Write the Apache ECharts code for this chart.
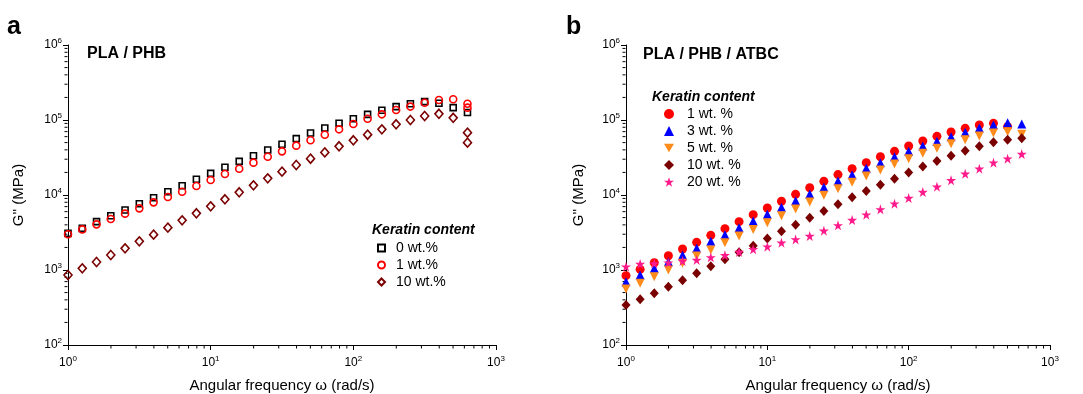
<!DOCTYPE html>
<html>
<head>
<meta charset="utf-8">
<script src="https://cdn.jsdelivr.net/npm/echarts@6/dist/echarts.min.js"></script>
<style>html,body{margin:0;padding:0;background:#fff;}#c{width:1083px;height:394px;}</style>
</head>
<body>
<div id="c"></div>
<script>
// Angular frequency (rad/s)
var freq = [1, 1.259, 1.585, 1.995, 2.512, 3.162, 3.981, 5.012, 6.310, 7.943,
  10, 12.59, 15.85, 19.95, 25.12, 31.62, 39.81, 50.12, 63.10, 79.43,
  100, 125.9, 158.5, 199.5, 251.2, 316.2, 398.1, 501.2, 631.0];

// Panel a: PLA / PHB, G'' (MPa)
var a0 = [3080, 3590, 4410, 5300, 6310, 7660, 9200, 11070, 13300, 16200,
  19400, 23400, 28100, 33400, 39800, 47400, 56400, 67100, 78200, 90300,
  104000, 119000, 135000, 151000, 165000, 176000, 167000, 146000, 126000];
var a1 = [2990, 3480, 4060, 4780, 5640, 6640, 7980, 9400, 11070, 13200,
  15850, 19050, 22400, 27000, 32400, 38200, 45500, 53600, 63700, 75100,
  88500, 104000, 119000, 136000, 151000, 170000, 185000, 189000, 165000];
var a10 = [858, 1052, 1279, 1585, 1945, 2410, 2960, 3670, 4590, 5700,
  7060, 8760, 10860, 13450, 16680, 20470, 25120, 30500, 37000, 44600,
  53600, 63700, 75100, 87600, 100000, 113000, 121000, 107000, 67800];
// repeated measurement at the last frequency
var repeatFreq = [631.0];
var a1Repeat = [146000];
var a10Repeat = [49900];

// Panel b: PLA / PHB / ATBC
var b1 = [840, 1020, 1250, 1550, 1905, 2340, 2900, 3560, 4410, 5470,
  6710, 8240, 10200, 12500, 15200, 18700, 22400, 27000, 32400, 38200,
  45000, 52500, 60600, 69200, 77400, 85800, 90300, 81500];
var b3 = [698, 858, 1052, 1290, 1585, 1945, 2410, 2960, 3670, 4500,
  5520, 6850, 8400, 10300, 12650, 15380, 18660, 22700, 27000, 32400,
  38200, 45000, 52000, 60000, 68500, 78200, 85800, 92000, 88500];
var b5 = [558, 664, 815, 1000, 1227, 1537, 1848, 2310, 2840, 3480,
  4280, 5300, 6500, 8070, 9900, 12150, 14760, 17900, 21500, 25900,
  30500, 35900, 41900, 48300, 54700, 61200, 67100, 69800, 64400];
var b10 = [341, 406, 489, 600, 728, 904, 1120, 1387, 1720, 2110,
  2640, 3280, 4020, 4990, 6120, 7510, 9310, 11300, 13700, 16500,
  19900, 23900, 28400, 33400, 39000, 44600, 50400, 54700, 57000];
var b20 = [1108, 1202, 1227, 1253, 1318, 1360, 1475, 1570, 1740, 1888,
  2048, 2310, 2560, 2840, 3340, 3940, 4640, 5470, 6440, 7660,
  9120, 10960, 12900, 15700, 19200, 22400, 27000, 30500, 35200];

var namesA = ['0 wt.%', '1 wt.%', '10 wt.%'];
var namesB = ['1 wt. %', '3 wt. %', '5 wt. %', '10 wt. %', '20 wt. %'];
var legendTitle = 'Keratin content';
var panelTitles = ['PLA / PHB', 'PLA / PHB / ATBC'];
var panelLetters = ['a', 'b'];
var xName = 'Angular frequency \u03c9 (rad/s)';
var yName = 'G\'\' (MPa)';
var xRange = [1, 1000];
var yRange = [100, 1000000];
var minorMult = [2, 3, 4, 5, 6, 7, 8, 9];
var xDecades = [1, 10, 100];
var yDecades = [100, 1000, 10000, 100000];

function zip(xs, ys) {
  var out = [];
  for (var i = 0; i < ys.length; i++) out.push([xs[i], ys[i]]);
  return out;
}

var FONT = 'Liberation Sans, Arial, Helvetica, sans-serif';
var STAR = 'path://M50,0 L61.2,34.5 L97.6,34.5 L68.2,55.9 L79.4,90.5 L50,69.1 L20.6,90.5 L31.8,55.9 L2.4,34.5 L38.8,34.5 Z';
var DOWN_TRI = 'path://M0,0 L100,0 L50,86.6 Z';

// minor tick marks drawn as tiny scatter marks at 2..9 x 10^n through the axes' scales
function minorTicksX(idx) {
  var d = [];
  xDecades.forEach(function (dec) { minorMult.forEach(function (m) { d.push([dec * m, yRange[0]]); }); });
  return { type: 'scatter', xAxisIndex: idx, yAxisIndex: idx, data: d, silent: true, clip: false,
    symbol: 'rect', symbolSize: [1, 3], symbolOffset: [0, 2], itemStyle: { color: '#000', opacity: 1 },
    z: 1, legendHoverLink: false, tooltip: { show: false } };
}
function minorTicksY(idx) {
  var d = [];
  yDecades.forEach(function (dec) { minorMult.forEach(function (m) { d.push([xRange[0], dec * m]); }); });
  return { type: 'scatter', xAxisIndex: idx, yAxisIndex: idx, data: d, silent: true, clip: false,
    symbol: 'rect', symbolSize: [3, 1], symbolOffset: [-2, 0], itemStyle: { color: '#000', opacity: 1 },
    z: 1, legendHoverLink: false, tooltip: { show: false } };
}

function supLabel() {
  return {
    margin: 0,
    formatter: function (v) { return '{b|10}{s|' + Math.round(Math.log10(v)) + '}'; },
    rich: {
      b: { fontSize: 12, fontFamily: FONT, color: '#000', lineHeight: 16 },
      s: { fontSize: 8, fontFamily: FONT, color: '#000', verticalAlign: 'top', lineHeight: 10 }
    }
  };
}

function xAxis(idx) {
  var lab = supLabel(); lab.margin = 10;
  return {
    type: 'log', logBase: 10, gridIndex: idx, min: xRange[0], max: xRange[1],
    name: xName, nameLocation: 'middle', nameGap: 33,
    nameTextStyle: { fontSize: 15, fontFamily: FONT, color: '#000' },
    axisLine: { lineStyle: { color: '#000', width: 1 } },
    axisTick: { show: true, inside: false, length: 5, lineStyle: { color: '#000' } },
    axisLabel: lab,
    splitLine: { show: false }, minorTick: { show: false }
  };
}
function yAxis(idx) {
  var lab = supLabel(); lab.margin = 6;
  return {
    type: 'log', logBase: 10, gridIndex: idx, min: yRange[0], max: yRange[1],
    name: yName, nameLocation: 'middle', nameGap: idx === 0 ? 42 : 40, nameRotate: 90,
    nameTextStyle: { fontSize: 15, fontFamily: FONT, color: '#000' },
    axisLine: { lineStyle: { color: '#000', width: 1 } },
    axisTick: { show: true, inside: false, length: 5, lineStyle: { color: '#000' } },
    axisLabel: lab,
    splitLine: { show: false }, minorTick: { show: false }
  };
}

function hollow(name, data, symbol, size, color, idx) {
  return {
    type: 'scatter', name: name, xAxisIndex: idx, yAxisIndex: idx, data: data,
    symbol: symbol, symbolSize: size, z: 3,
    itemStyle: { color: 'rgba(255,255,255,0)', borderColor: color, borderWidth: 1.6, opacity: 1 }
  };
}
function filled(name, data, symbol, size, color, idx) {
  return {
    type: 'scatter', name: name, xAxisIndex: idx, yAxisIndex: idx, data: data,
    symbol: symbol, symbolSize: size, z: 3,
    itemStyle: { color: color, opacity: 1 }
  };
}

var legendTextA = { fontSize: 14, fontFamily: FONT, color: '#000', lineHeight: 14, padding: [0, 0, 0, 6] };
var legendTextB = { fontSize: 14, fontFamily: FONT, color: '#000', lineHeight: 14, padding: [0, 0, 0, 8] };

var option = {
  animation: false,
  backgroundColor: '#fff',
  grid: [
    { left: 68, right: 587, top: 45, bottom: 49, containLabel: false, outerBoundsMode: 'none' },
    { left: 626, right: 33, top: 45, bottom: 49, containLabel: false, outerBoundsMode: 'none' }
  ],
  xAxis: [xAxis(0), xAxis(1)],
  yAxis: [yAxis(0), yAxis(1)],
  legend: [
    { data: namesA, orient: 'vertical', left: 372, top: 236, itemWidth: 7, itemHeight: 7, itemGap: 3,
      textStyle: legendTextA, selectedMode: false },
    { data: namesB, orient: 'vertical', left: 659, top: 102, itemWidth: 10, itemHeight: 10, itemGap: 3,
      textStyle: legendTextB, selectedMode: false }
  ],
  graphic: [
    { type: 'text', left: 7, top: 15, style: { text: panelLetters[0], font: 'bold 25px ' + FONT, fill: '#000' } },
    { type: 'text', left: 566, top: 15, style: { text: panelLetters[1], font: 'bold 25px ' + FONT, fill: '#000' } },
    { type: 'text', left: 87, top: 46, style: { text: panelTitles[0], font: 'bold 16px ' + FONT, fill: '#000' } },
    { type: 'text', left: 643, top: 47, style: { text: panelTitles[1], font: 'bold 16px ' + FONT, fill: '#000' } },
    { type: 'text', left: 372, top: 223, style: { text: legendTitle, font: 'italic bold 14px ' + FONT, fill: '#000' } },
    { type: 'text', left: 652, top: 90, style: { text: legendTitle, font: 'italic bold 14px ' + FONT, fill: '#000' } }
  ],
  series: [
    minorTicksX(0), minorTicksY(0), minorTicksX(1), minorTicksY(1),
    hollow(namesA[0], zip(freq, a0), 'rect', 6, '#000000', 0),
    hollow(namesA[1], zip(freq, a1).concat(zip(repeatFreq, a1Repeat)), 'circle', 7, '#ff0000', 0),
    hollow(namesA[2], zip(freq, a10).concat(zip(repeatFreq, a10Repeat)), 'diamond', [8, 9], '#7a0000', 0),
    filled(namesB[0], zip(freq, b1), 'circle', 9, '#ff0000', 1),
    filled(namesB[1], zip(freq, b3), 'triangle', 9, '#0000ff', 1),
    filled(namesB[2], zip(freq, b5), DOWN_TRI, 9, '#ff8c1a', 1),
    filled(namesB[3], zip(freq, b10), 'diamond', [9, 10], '#7a0000', 1),
    filled(namesB[4], zip(freq, b20), STAR, 10, '#ff1a8c', 1)
  ]
};

var chart = echarts.init(document.getElementById('c'), null, { renderer: 'canvas' });
chart.setOption(option);
</script>
</body>
</html>
